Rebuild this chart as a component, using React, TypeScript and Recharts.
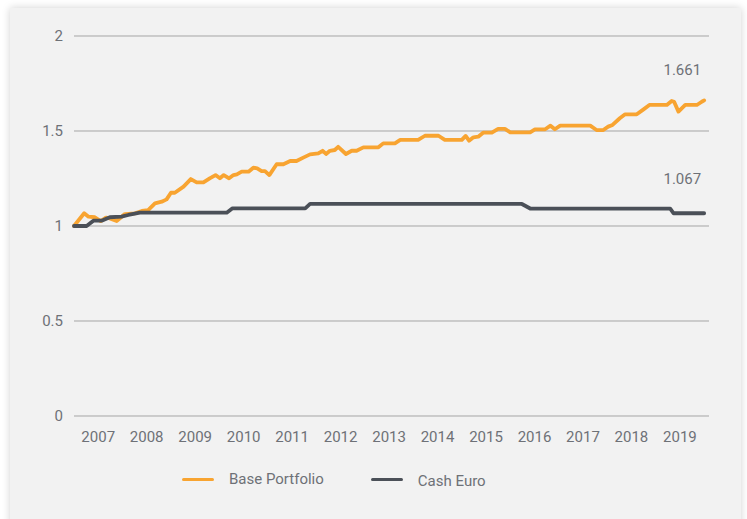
import { CartesianGrid, Line, LineChart, XAxis, YAxis } from "recharts";

// Base Portfolio (decimal year, index value)
const BASE_T = [
  2007.0, 2007.21, 2007.3, 2007.43, 2007.55, 2007.66, 2007.74, 2007.88, 2008.05, 2008.26,
  2008.4, 2008.53, 2008.67, 2008.81, 2008.91, 2009.0, 2009.08, 2009.26, 2009.41, 2009.53,
  2009.67, 2009.8, 2009.92, 2010.01, 2010.09, 2010.2, 2010.29, 2010.36, 2010.46, 2010.6,
  2010.7, 2010.78, 2010.87, 2010.94, 2011.03, 2011.18, 2011.32, 2011.46, 2011.59, 2011.73,
  2011.87, 2012.04, 2012.13, 2012.2, 2012.28, 2012.38, 2012.45, 2012.61, 2012.73, 2012.83,
  2012.97, 2013.28, 2013.38, 2013.62, 2013.73, 2014.1, 2014.24, 2014.52, 2014.65, 2015.0,
  2015.08, 2015.15, 2015.24, 2015.34, 2015.44, 2015.62, 2015.75, 2015.89, 2016.0, 2016.41,
  2016.51, 2016.72, 2016.83, 2016.92, 2017.03, 2017.65, 2017.78, 2017.92, 2018.02, 2018.11,
  2018.26, 2018.37, 2018.61, 2018.75, 2018.87, 2019.23, 2019.33, 2019.38, 2019.47, 2019.61,
  2019.85, 2019.95, 2020.0,
];
const BASE_V = [
  1.0, 1.067, 1.049, 1.046, 1.026, 1.044, 1.04, 1.026, 1.063, 1.067,
  1.079, 1.084, 1.119, 1.128, 1.14, 1.175, 1.175, 1.207, 1.247, 1.23,
  1.23, 1.251, 1.268, 1.251, 1.268, 1.251, 1.268, 1.272, 1.286, 1.286,
  1.307, 1.303, 1.289, 1.289, 1.268, 1.325, 1.325, 1.342, 1.342, 1.36,
  1.377, 1.382, 1.396, 1.379, 1.396, 1.4, 1.417, 1.379, 1.396, 1.396,
  1.414, 1.414, 1.435, 1.435, 1.453, 1.453, 1.475, 1.475, 1.453, 1.453,
  1.474, 1.449, 1.467, 1.47, 1.491, 1.491, 1.511, 1.511, 1.493, 1.493,
  1.509, 1.509, 1.528, 1.509, 1.528, 1.528, 1.505, 1.505, 1.523, 1.532,
  1.567, 1.588, 1.588, 1.614, 1.637, 1.637, 1.658, 1.654, 1.602, 1.637,
  1.637, 1.654, 1.661,
];

// Cash Euro, a stepped series
const CASH_T = [
  2007.0, 2007.26, 2007.4, 2007.57, 2007.74, 2007.98, 2008.12, 2008.36, 2010.15, 2010.27,
  2011.77, 2011.87, 2016.24, 2016.42, 2019.3, 2019.37, 2020.0,
];
const CASH_V = [
  1.0, 1.0, 1.028, 1.028, 1.046, 1.049, 1.058, 1.07, 1.07, 1.093,
  1.093, 1.116, 1.116, 1.091, 1.091, 1.067, 1.067,
];

const YEARS = [2007, 2008, 2009, 2010, 2011, 2012, 2013, 2014, 2015, 2016, 2017, 2018, 2019];
const Y_TICKS = [0, 0.5, 1, 1.5, 2];

const ORANGE = "#f8a431";
const DARK = "#4b5058";
const TEXT = "#6e7177";
const FONT = "Roboto, sans-serif";

const base = BASE_T.map((t, i) => ({ t, v: BASE_V[i] }));
const cash = CASH_T.map((t, i) => ({ t, v: CASH_V[i] }));

// draws the final value above the last point of a series
function endLabel(count: number, lift: number) {
  return (p: any) => {
    if (p.index !== count - 1) return <g key={p.index} />;
    return (
      <text
        key={p.index}
        x={p.cx - 3}
        y={p.cy - lift}
        textAnchor="end"
        fill={TEXT}
        fontSize={15}
        fontFamily={FONT}
      >
        {p.payload.v.toFixed(3)}
      </text>
    );
  };
}

function LegendItem({ color, label, dy }: { color: string; label: string; dy: number }) {
  return (
    <div style={{ display: "flex", alignItems: "center" }}>
      <div style={{ width: 32, height: 3, background: color, borderRadius: 2 }} />
      <span style={{ marginLeft: 15, color: TEXT, fontSize: 15, fontFamily: FONT, position: "relative", top: dy }}>
        {label}
      </span>
    </div>
  );
}

export default function App() {
  return (
    <div style={{ position: "absolute", left: 0, top: 0, width: 747, height: 519, overflow: "hidden", background: "#fff" }}>
      <div style={{ position: "absolute", left: 10, top: 8, background: "#f2f2f2", width: 731, height: 540, boxShadow: "0 0 8px rgba(0,0,0,0.18)" }}>
        <LineChart width={731} height={468} margin={{ top: 28, right: 32, left: 0, bottom: 0 }}>
          <CartesianGrid vertical={false} stroke="#a5a5a5" />
          <XAxis
            type="number"
            dataKey="t"
            domain={[2007, 2020.1]}
            ticks={YEARS.map((y) => y + 0.5)}
            tickFormatter={(v: number) => String(Math.floor(v))}
            axisLine={false}
            tickLine={false}
            tickMargin={9}
            height={60}
            tick={{ fill: TEXT, fontSize: 15, fontFamily: FONT }}
          />
          <YAxis
            domain={[0, 2]}
            ticks={Y_TICKS}
            axisLine={false}
            tickLine={false}
            width={64}
            tickMargin={5}
            tick={{ fill: TEXT, fontSize: 15, fontFamily: FONT }}
          />
          <Line
            data={base}
            dataKey="v"
            name="Base Portfolio"
            type="linear"
            stroke={ORANGE}
            strokeWidth={3.8}
            strokeLinejoin="round"
            strokeLinecap="round"
            dot={endLabel(base.length, 25)}
            activeDot={false}
            isAnimationActive={false}
          />
          <Line
            data={cash}
            dataKey="v"
            name="Cash Euro"
            type="linear"
            stroke={DARK}
            strokeWidth={3.8}
            strokeLinejoin="round"
            strokeLinecap="round"
            dot={endLabel(cash.length, 29)}
            activeDot={false}
            isAnimationActive={false}
          />
        </LineChart>
        <div style={{ position: "absolute", left: 172, top: 462, display: "flex", gap: 47, lineHeight: "18px" }}>
          <LegendItem color={ORANGE} label="Base Portfolio" dy={0} />
          <LegendItem color={DARK} label="Cash Euro" dy={2} />
        </div>
      </div>
    </div>
  );
}
